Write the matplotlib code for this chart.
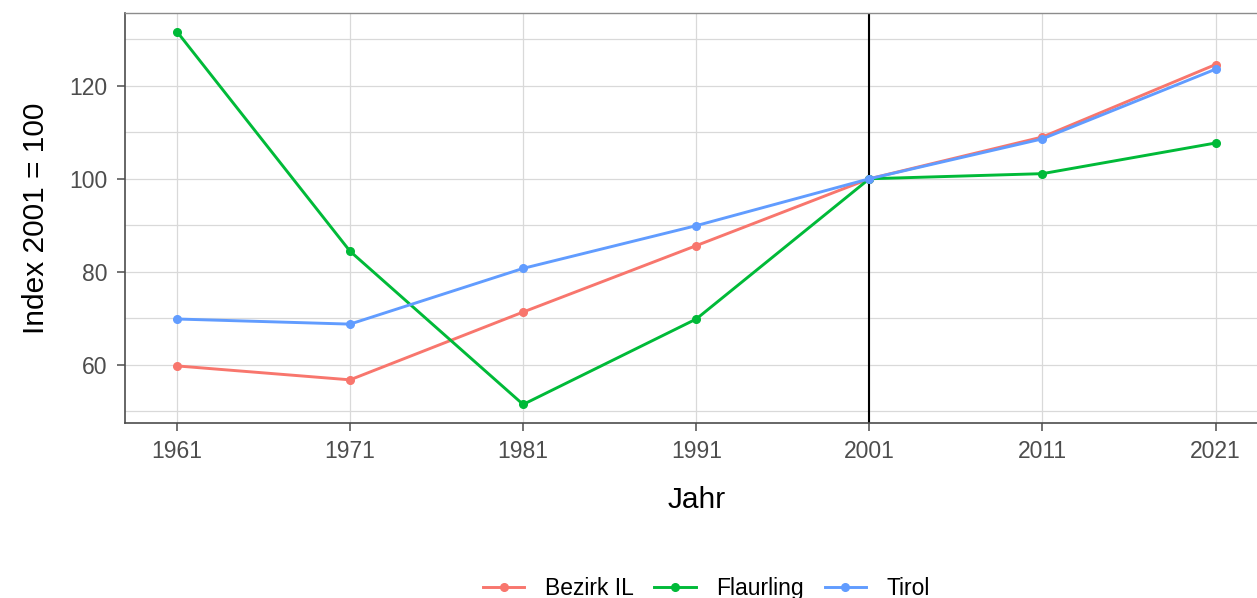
import matplotlib.pyplot as plt
from matplotlib.ticker import MultipleLocator

years = [1961, 1971, 1981, 1991, 2001, 2011, 2021]
bezirk_il = [59.7, 56.7, 71.3, 85.6, 100.0, 109.0, 124.6]
flaurling = [131.7, 84.4, 51.4, 69.8, 100.0, 101.1, 107.7]
tirol = [69.8, 68.7, 80.7, 89.9, 100.0, 108.6, 123.6]

series_names = ["Bezirk IL", "Flaurling", "Tirol"]
series_values = [bezirk_il, flaurling, tirol]
colors = ["#F8766D", "#00BA38", "#619CFF"]
base_year = 2001

plt.rcParams["font.family"] = ["Liberation Sans", "DejaVu Sans"]

fig = plt.figure(figsize=(12.57, 5.98), dpi=100)
ax = fig.add_axes([0.0994, 0.2926, 0.909, 0.6857])

ax.axvline(base_year, color="black", linewidth=1.5, zorder=2)
for name, values, color in zip(series_names, series_values, colors):
    ax.plot(years, values, color=color, linewidth=2.1, marker="o", markersize=5.5,
            label=name, zorder=3)

ax.set_xlim(1958, 2024)
ax.set_ylim(47.4, 135.7)
ax.set_xticks(years)
ax.yaxis.set_major_locator(MultipleLocator(20))
ax.yaxis.set_minor_locator(MultipleLocator(10))
ax.grid(True, which="both", color="#D9D9D9", linewidth=0.9, zorder=0)
ax.set_axisbelow(True)

for side in ["top", "right"]:
    ax.spines[side].set_color("#8C8C8C")
    ax.spines[side].set_linewidth(1.0)
for side in ["left", "bottom"]:
    ax.spines[side].set_color("#4D4D4D")
    ax.spines[side].set_linewidth(1.2)

ax.tick_params(axis="both", which="major", labelsize=16.5, labelcolor="#4D4D4D",
               color="#4D4D4D", length=5.5, width=1.1, pad=7)
ax.tick_params(axis="both", which="minor", length=0)

ax.set_xlabel("Jahr", fontsize=21.5, labelpad=16)
ax.set_ylabel("Index 2001 = 100", fontsize=21.5, labelpad=14)

fig.legend(loc="lower center", bbox_to_anchor=(0.562, -0.038), ncol=3, frameon=False,
           fontsize=16.5, handlelength=1.8, columnspacing=0.9, handletextpad=0.9)

fig.savefig("out.png", dpi=100)
plt.close(fig)
